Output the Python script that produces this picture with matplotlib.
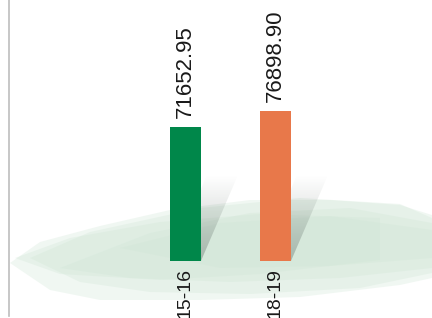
import numpy as np
import matplotlib
matplotlib.use("Agg")
import matplotlib.pyplot as plt
from matplotlib.patches import Polygon
from matplotlib.lines import Line2D

# Chart data
categories = ["15-16", "18-19"]
values = [71652.95, 76898.90]
colors = ["#00874a", "#e8784a"]

plt.rcParams['font.family'] = ['Liberation Sans', 'DejaVu Sans']

fig = plt.figure(figsize=(4.32, 3.18), dpi=100)

# background layer in pixel coordinates (y up)
bg = fig.add_axes([0, 0, 1, 1])
bg.set_xlim(0, 432)
bg.set_ylim(0, 318)
bg.axis("off")

# watercolor-ish green smear
blobs = [
    [(10, 55), (40, 76), (100, 92), (170, 108), (250, 118), (330, 118), (400, 113), (432, 103),
     (432, 40), (400, 33), (300, 21), (200, 18), (100, 18), (50, 28)],
    [(30, 60), (90, 86), (200, 110), (300, 120), (400, 114), (432, 100),
     (432, 45), (360, 30), (250, 24), (150, 26), (80, 36)],
    [(60, 50), (150, 85), (250, 105), (350, 110), (432, 95),
     (432, 50), (340, 40), (230, 36), (130, 40)],
    [(15, 60), (70, 80), (160, 96), (260, 104), (380, 100),
     (380, 58), (260, 44), (160, 38), (60, 44)],
    [(120, 70), (220, 95), (330, 102), (432, 88), (432, 60), (330, 52), (220, 50)],
]
for pts in blobs:
    bg.add_patch(Polygon(pts, closed=True, facecolor="#cfe6d5",
                         edgecolor="none", alpha=0.3))

# left rule
fig.add_artist(Line2D([8.5 / 432, 8.5 / 432], [2 / 318, 1], color="#bdbdbd",
                      lw=1.2, transform=fig.transFigure))

# main axes
ax = fig.add_axes([8 / 432, 57 / 318, 424 / 432, 261 / 318])
ax.patch.set_alpha(0)
x = np.arange(len(categories))
ax.set_xlim(-1.972, 2.739)
ax.set_ylim(27700, 113300)
bars = ax.bar(x, values, width=0.344, color=colors, zorder=3)
for s in ax.spines.values():
    s.set_visible(False)
ax.set_xticks([])
ax.set_yticks([])

# shadows behind bars (gradient parallelograms)
grad = np.zeros((100, 1, 4))
grad[..., 0:3] = np.array([90, 102, 96]) / 255
grad[:, 0, 3] = np.linspace(0.38, 0.0, 100)
for b in bars:
    (x0, _) = ax.transData.transform((b.get_x(), 0))
    (x1, _) = ax.transData.transform((b.get_x() + b.get_width(), 0))
    y0 = 57
    h = 86
    sh = 37
    poly = Polygon([(x0, y0), (x1, y0), (x1 + sh, y0 + h), (x0 + sh, y0 + h)],
                   closed=True, facecolor="none", edgecolor="none")
    bg.add_patch(poly)
    im = bg.imshow(grad, extent=(x0, x1 + sh, y0, y0 + h), origin="lower",
                   aspect="auto", zorder=2)
    im.set_clip_path(poly)
bg.set_xlim(0, 432)
bg.set_ylim(0, 318)

# labels
for xi, v, c in zip(x, values, categories):
    ax.annotate(f"{v:.2f}", (xi, v), xytext=(0, 6.5), textcoords="offset points",
                rotation=90, ha="center", va="bottom", fontsize=16,
                color="#1a1a1a", annotation_clip=False)
    ax.annotate(c, (xi, 27700), xytext=(0, -5), textcoords="offset points",
                rotation=90, ha="center", va="top", fontsize=14,
                color="#1a1a1a", annotation_clip=False)

fig.savefig("out.png", dpi=100)
